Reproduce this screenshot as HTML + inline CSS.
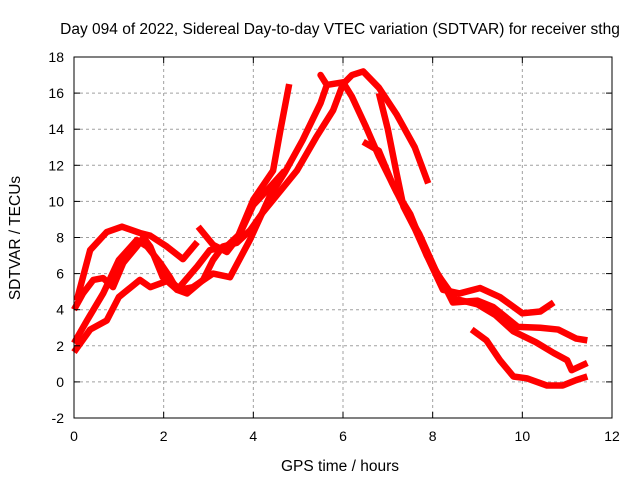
<!DOCTYPE html>
<html><head><meta charset="utf-8"><style>
body{margin:0;background:#fff}
svg{display:block;font-family:"Liberation Sans",sans-serif}
</style></head><body>
<svg id="c" width="640" height="480">
<text x="340" y="34" text-anchor="middle" font-size="15.5">Day 094 of 2022, Sidereal Day-to-day VTEC variation (SDTVAR) for receiver sthg</text>
<text x="340" y="471" text-anchor="middle" font-size="15.5">GPS time / hours</text>
<text transform="translate(20,238) rotate(-90)" text-anchor="middle" font-size="15.5">SDTVAR / TECUs</text>
<g id="grid"></g><g id="series"></g><g id="axes"></g>
</svg>
<script>
const xTicks=[0,2,4,6,8,10,12];
const yTicks=[-2,0,2,4,6,8,10,12,14,16,18];
const traceA=[[0.06,4.5],[0.36,7.3],[0.73,8.3],[1.07,8.6],[1.47,8.25],[1.7,8.1],[2.07,7.5],[2.43,6.8],[2.75,7.75]];
const traceA2=[[2.77,8.6],[3.1,7.6],[3.41,7.2],[3.63,7.9],[4.0,10.1],[4.44,11.7],[4.6,13.9],[4.8,16.5]];
const traceB=[[0,1.65],[0.36,2.9],[0.73,3.4],[1.0,4.7],[1.47,5.65],[1.7,5.25],[2.14,5.65],[2.36,5.1],[2.65,5.25],[3.1,6.0],[3.48,5.8],[3.93,7.9],[4.37,10.3],[4.7,11.6],[5.1,13.4],[5.5,15.45],[5.64,16.45],[5.5,17],[5.64,16.45],[6.0,16.6],[6.2,15.8],[6.5,14.2],[6.8,12.5],[7.2,10.5],[7.5,9.3],[7.87,7.0],[8.23,5.1],[8.6,4.9],[9.06,5.2],[9.5,4.7],[10.0,3.8],[10.4,3.9],[10.7,4.4]];
const traceC=[[0,2.15],[0.29,3.4],[0.65,4.9],[1.0,6.75],[1.4,7.86],[1.63,7.5],[1.92,6.6],[2.14,5.8],[2.3,5.1],[2.52,4.9],[2.88,5.65],[3.1,6.75],[3.32,7.5],[3.63,7.7],[3.93,8.4],[4.2,9.35],[4.97,11.7],[5.4,13.55],[5.78,15.05],[6.0,16.5],[6.2,17.0],[6.45,17.2],[6.8,16.3],[7.2,14.8],[7.6,13.0],[7.9,11.0]];
const traceD=[[0,4.0],[0.2,4.9],[0.43,5.65],[0.65,5.75],[0.87,5.25],[1.1,6.6],[1.4,7.5],[1.55,8.0],[1.7,7.5],[1.98,5.8],[2.3,5.1],[2.75,6.4],[3.03,7.3],[3.4,7.5],[3.7,8.2],[4.0,9.8],[4.3,10.6],[4.7,11.7]];
const traceE=[[6.8,16.0],[7.0,14.0],[7.2,11.5],[7.35,9.7],[7.6,8.5],[7.87,7.0],[8.23,5.5],[8.45,4.4],[9.0,4.5],[9.35,4.15],[9.9,3.05],[10.4,3.0],[10.8,2.9],[11.2,2.4],[11.45,2.3]];
const traceF=[[6.45,13.3],[6.8,12.8],[7.1,11.0],[7.4,9.5],[7.7,8.2],[8.1,6.0],[8.5,4.6],[9.0,4.3],[9.4,3.7],[9.8,2.8],[10.3,2.2],[10.7,1.6],[11.0,1.2],[11.1,0.65],[11.45,1.05]];
const traceG=[[8.87,2.9],[9.2,2.3],[9.5,1.2],[9.8,0.3],[10.1,0.2],[10.55,-0.2],[10.9,-0.2],[11.2,0.1],[11.45,0.3]];
const traces=[traceA,traceA2,traceB,traceC,traceD,traceE,traceF,traceG];
const X0=74,X1=612,Y0=418,Y1=57;
const xs=t=>X0+(t-0)/(12-0)*(X1-X0);
const ys=v=>Y0-(v+2)/20*(Y0-Y1);
const NS="http://www.w3.org/2000/svg";
const grid=document.getElementById('grid'),axes=document.getElementById('axes'),ser=document.getElementById('series');
function mk(tag,at,p){const e=document.createElementNS(NS,tag);for(const k in at)e.setAttribute(k,at[k]);p.appendChild(e);return e;}
xTicks.forEach(t=>{
 if(t>0&&t<12){const g=mk('line',{x1:xs(t),x2:xs(t),y1:Y1,y2:Y0,stroke:'#a0a0a0','stroke-dasharray':'3,3'},grid);
 
 }
 mk('line',{x1:xs(t),x2:xs(t),y1:Y0,y2:Y0-6,stroke:'#000'},axes);
 mk('line',{x1:xs(t),x2:xs(t),y1:Y1,y2:Y1+6,stroke:'#000'},axes);
 const l=mk('text',{x:xs(t),y:Y0+23,'text-anchor':'middle','font-size':14},axes);l.textContent=t;
 
 
});
yTicks.forEach(v=>{
 if(v>-2&&v<18){const g=mk('line',{x1:X0,x2:X1,y1:ys(v),y2:ys(v),stroke:'#a0a0a0','stroke-dasharray':'3,3'},grid);
 
 }
 mk('line',{x1:X0,x2:X0+6,y1:ys(v),y2:ys(v),stroke:'#000'},axes);
 mk('line',{x1:X1,x2:X1-6,y1:ys(v),y2:ys(v),stroke:'#000'},axes);
 const l=mk('text',{x:X0-10,y:ys(v)+5,'text-anchor':'end','font-size':14},axes);l.textContent=v;
 
 
});
const fr=mk('rect',{x:X0,y:Y1,width:X1-X0,height:Y0-Y1,fill:'none',stroke:'#000'},axes);


traces.forEach(tr=>{
 const p=mk('polyline',{points:tr.map(d=>xs(d[0])+','+ys(d[1])).join(' '),fill:'none',stroke:'#ff0000','stroke-width':6.5,'stroke-linejoin':'round','stroke-linecap':'butt'},ser);
 
 
});
</script>
</body></html>
